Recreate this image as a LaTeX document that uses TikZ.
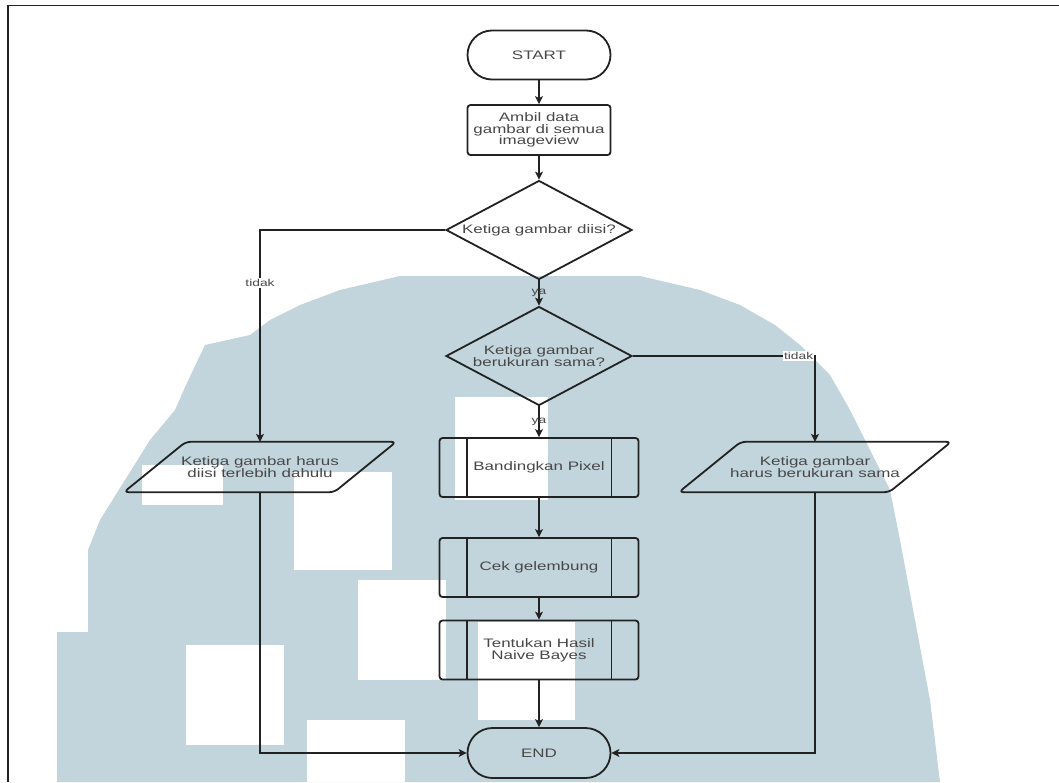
\documentclass[tikz,border=0pt]{standalone}
\usepackage{fontspec}
\setmainfont{Liberation Sans}
\newfontfamily\wideSans[FakeStretch=1.38]{Liberation Sans}
\usetikzlibrary{shapes.geometric,arrows.meta,calc}
\definecolor{wm}{RGB}{194,212,220}
\definecolor{ln}{RGB}{34,34,34}
\definecolor{tx}{RGB}{72,72,72}
\begin{document}
\begin{tikzpicture}[x=1pt,y=-1pt,
  shp/.style={draw=ln,line width=1.8pt},
  txt/.style={text=tx,font=\wideSans\fontsize{12.3}{11.8}\selectfont,align=center,inner sep=0pt},
  term/.style={shp,rounded corners=24.5pt,minimum width=143,minimum height=49,inner sep=0pt,txt},
  proc/.style={shp,rounded corners=3pt,minimum width=143,minimum height=50,inner sep=0pt,txt},
  pproc/.style={shp,rounded corners=3pt,minimum width=199,minimum height=59,inner sep=0pt,txt},
  dia/.style={shp,diamond,minimum width=186,minimum height=99,inner sep=0pt},
  pbox/.style={minimum width=272,minimum height=50,inner sep=0pt,txt},
  arr/.style={draw=ln,line width=1.2pt,-{Stealth[length=8pt,width=8pt,inset=2pt]}},
  lab/.style={text=tx,font=\wideSans\fontsize{10}{11}\selectfont,inner sep=1pt}]
\useasboundingbox (0,0) rectangle (1059,782);
\fill[white] (0,0) rectangle (1059,782);
% watermark
\fill[wm] (57,782) -- (57,632) -- (88,632) -- (88,550) -- (100,520) -- (125,480) -- (150,440) -- (175,410) -- (186,385) -- (205,345) -- (250,335) -- (270,320) -- (300,305) -- (340,290) -- (400,276) -- (640,276) -- (700,290) -- (740,305) -- (775,325) -- (800,345) -- (830,375) -- (850,410) -- (870,450) -- (890,490) -- (900,540) -- (915,620) -- (930,700) -- (940,782) -- cycle;
\fill[white] (455,397) rectangle (548,500);
\fill[white] (294,472) rectangle (392,570);
\fill[white] (358,580) rectangle (446,680);
\fill[white] (186,645) rectangle (284,745);
\fill[white] (307,720) rectangle (405,782);
\fill[white] (478,622) rectangle (575,720);
\fill[white] (142,465) rectangle (223,505);
% frame
\draw[ln,line width=1.6pt] (8,782) -- (8,5.5) -- (1059,5.5);
% nodes
\node[term] (start) at (539,55) {START};
\node[proc] (get) at (539,130) {Ambil data\\gambar di semua\\imageview};
\node[dia] (d1) at (539,230) {};
\node[txt] (d1t) at (d1) {Ketiga gambar diisi?};
\node[dia] (d2) at (539,356) {};
\node[txt] (d2t) at (d2) {Ketiga gambar\\berukuran sama?};
\node[pproc] (b1) at (539,467.5) {Bandingkan Pixel};
\node[pproc] (b2) at (539,567.5) {Cek gelembung};
\node[pproc] (b3) at (539,650) {Tentukan Hasil\\Naive Bayes};
\node[term,minimum height=50,rounded corners=25pt] (end) at (539,753) {END};
\node[pbox] (p1) at (260,467) {Ketiga gambar harus\\diisi terlebih dahulu};
\node[pbox] (p2) at (815,467) {Ketiga gambar\\harus berukuran sama};
% parallelograms
\foreach \p in {p1,p2}{
  \draw[shp,rounded corners=5pt] ($(\p.north west)+(62,0)$) -- (\p.north east) -- ($(\p.south east)+(-62,0)$) -- (\p.south west) -- cycle;
}
% predefined process inner lines
\foreach \b in {b1,b2,b3}{
  \draw[ln,line width=1.8pt] ($(\b.north west)+(28,0)$) -- ($(\b.south west)+(28,0)$);
  \draw[ln,line width=1.8pt] ($(\b.north east)+(-28,0)$) -- ($(\b.south east)+(-28,0)$);
}
% connectors
\draw[arr] (start) -- (get);
\draw[arr] (get) -- (d1.north);
\draw[arr] (d1.south) -- node[lab]{ya} (d2.north);
\draw[arr] (d2.south) -- node[lab]{ya} (b1.north);
\draw[arr] (b1) -- (b2);
\draw[arr] (b2) -- (b3);
\draw[arr] (b3) -- (end);
\draw[arr] (d1.west) -| node[lab,fill=white,pos=0.625]{tidak} (p1.north);
\draw[arr] (d2.east) -| node[lab,fill=white,pos=0.455]{tidak} (p2.north);
\draw[arr] (p1.south) |- (end.west);
\draw[arr] (p2.south) |- (end.east);
\end{tikzpicture}
\end{document}
